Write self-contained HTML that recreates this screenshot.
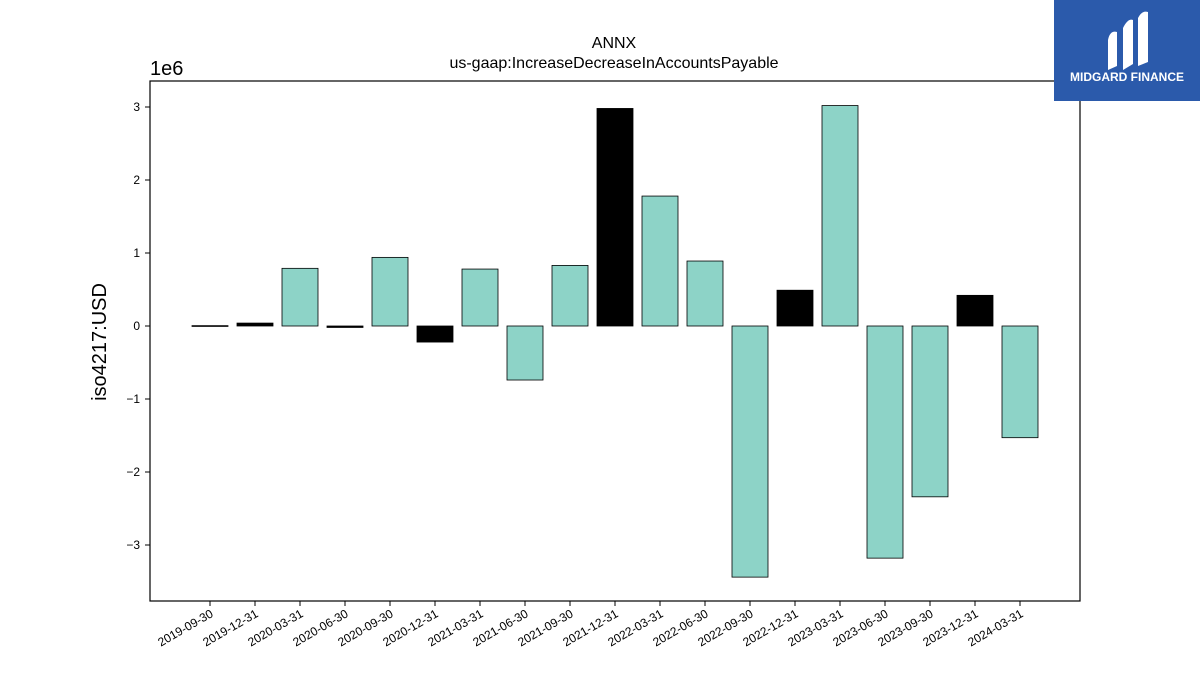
<!DOCTYPE html>
<html><head><meta charset="utf-8"><style>
body{margin:0;background:#fff;width:1200px;height:675px;overflow:hidden;font-family:"Liberation Sans","DejaVu Sans",sans-serif}
</style></head><body>
<svg id="chart" width="1200" height="675" xmlns="http://www.w3.org/2000/svg">
<text x="614" y="48" text-anchor="middle" font-size="16">ANNX</text>
<text x="614" y="68" text-anchor="middle" font-size="16">us-gaap:IncreaseDecreaseInAccountsPayable</text>
<text x="150" y="75" font-size="20">1e6</text>
<text transform="translate(106,342) rotate(-90)" text-anchor="middle" font-size="20">iso4217:USD</text>
<g id="bars"></g>
<g id="yticks"></g>
<g id="xticks"></g>
<rect x="150" y="81" width="930" height="520" fill="none" stroke="#000" stroke-width="1.2"/>
<g>
<rect x="1054" y="0" width="146" height="101" fill="#2b5aab"/>
<path d="M1108 70 L1108 40 Q1110 30 1117 32 L1117 66 Z M1123 70 L1123 28 Q1128 18 1133 20 L1133 64 Z M1138 66 L1138 18 Q1142 10 1148 12 L1148 62 Z" fill="#fff"/>
<text x="1127" y="81" text-anchor="middle" font-size="12" font-weight="bold" fill="#fff">MIDGARD FINANCE</text>
</g>
</svg>
<script>
const categories=["2019-09-30","2019-12-31","2020-03-31","2020-06-30","2020-09-30","2020-12-31","2021-03-31","2021-06-30","2021-09-30","2021-12-31","2022-03-31","2022-06-30","2022-09-30","2022-12-31","2023-03-31","2023-06-30","2023-09-30","2023-12-31","2024-03-31"];
const values=[0.005e6,0.04e6,0.79e6,-0.02e6,0.94e6,-0.22e6,0.78e6,-0.74e6,0.83e6,2.98e6,1.78e6,0.89e6,-3.44e6,0.49e6,3.02e6,-3.18e6,-2.34e6,0.42e6,-1.53e6];
const isQ4=[1,1,0,1,0,1,0,0,0,1,0,0,0,1,0,0,0,1,0];
const yTicks=[-3,-2,-1,0,1,2,3];
const NS="http://www.w3.org/2000/svg";
const y=v=>326-v/1e6*73;
const x=i=>210+i*45;
const bars=document.getElementById('bars'),yt=document.getElementById('yticks'),xt=document.getElementById('xticks');
categories.forEach((c,i)=>{
 const v=values[i];
 const r=document.createElementNS(NS,'rect');
 
 
 r.setAttribute('x',x(i)-18);r.setAttribute('width',36);
 r.setAttribute('y',Math.min(y(v),y(0)));r.setAttribute('height',Math.max(Math.abs(y(v)-y(0)),0.8));
 r.setAttribute('fill',isQ4[i]?'#000':'#8dd3c7');r.setAttribute('stroke','#000');r.setAttribute('stroke-width','0.8');
 bars.appendChild(r);
 const t=document.createElementNS(NS,'line');
 
 
 t.setAttribute('x1',x(i));t.setAttribute('x2',x(i));t.setAttribute('y1',601);t.setAttribute('y2',606);t.setAttribute('stroke','#000');
 xt.appendChild(t);
 const l=document.createElementNS(NS,'text');
 
 
 l.setAttribute('font-size','12');l.setAttribute('text-anchor','end');
 l.setAttribute('transform','translate('+(x(i)+4)+',616) rotate(-30)');
 l.textContent=c;xt.appendChild(l);
});
yTicks.forEach(v=>{
 const t=document.createElementNS(NS,'line');
 
 
 t.setAttribute('x1',145);t.setAttribute('x2',150);t.setAttribute('y1',y(v*1e6));t.setAttribute('y2',y(v*1e6));t.setAttribute('stroke','#000');
 yt.appendChild(t);
 const l=document.createElementNS(NS,'text');
 
 
 l.setAttribute('font-size','12');l.setAttribute('text-anchor','end');
 l.setAttribute('x',140);l.setAttribute('y',y(v*1e6)+4);
 l.textContent=v<0?'\u2212'+(-v):String(v);yt.appendChild(l);
});
</script>
</body></html>
